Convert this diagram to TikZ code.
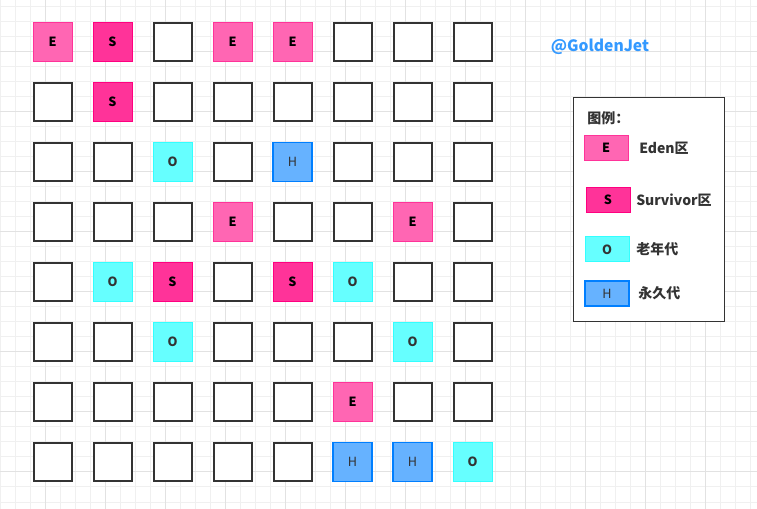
\documentclass[tikz,border=0pt]{standalone}
\usepackage{fontspec}
\setmainfont{Noto Sans CJK SC}
\definecolor{eF}{HTML}{FF66B3}
\definecolor{eD}{HTML}{FF3399}
\definecolor{sF}{HTML}{FF3399}
\definecolor{sD}{HTML}{FF0080}
\definecolor{oF}{HTML}{66FFFF}
\definecolor{oD}{HTML}{33FFFF}
\definecolor{hF}{HTML}{66B2FF}
\definecolor{hD}{HTML}{007FFF}
\definecolor{dk}{HTML}{333333}
\definecolor{gminor}{HTML}{F0F0F0}
\definecolor{gmajor}{HTML}{E2E2E2}
\definecolor{tag}{HTML}{3399FF}
\begin{document}
\begin{tikzpicture}[x=0.75pt,y=-0.75pt,
  cellbase/.style={rectangle,inner sep=0pt,outer sep=0pt,minimum size=29.25pt,font=\fontsize{9.5}{10}\selectfont},
  cellE/.style={cellbase,fill=eF,draw=eD,line width=0.75pt,font=\fontsize{9.5}{10}\selectfont\bfseries,node contents={E}},
  cellS/.style={cellbase,fill=sF,draw=sD,line width=0.75pt,font=\fontsize{9.5}{10}\selectfont\bfseries,node contents={S}},
  cellO/.style={cellbase,fill=oF,draw=oD,line width=0.75pt,text=dk,font=\fontsize{9.5}{10}\selectfont\bfseries,node contents={O}},
  cellH/.style={cellbase,fill=hF,draw=hD,line width=1.1pt,text=dk,node contents={H}},
  cellN/.style={cellbase,fill=white,draw=dk,line width=1.5pt,minimum size=28.5pt,node contents={}},
  legbox/.style={rectangle,inner sep=0pt,minimum width=33pt,minimum height=18.75pt,font=\fontsize{9.5}{10}\selectfont\bfseries},
  legtext/.style={anchor=west,inner sep=0pt,text=dk,font=\fontsize{10.5}{12}\selectfont\bfseries},
  minorline/.style={draw=gminor,line width=0.75pt},
  majorline/.style={draw=gmajor,line width=0.75pt}]
\useasboundingbox (0,0) rectangle (757,509);
\fill[white] (0,0) rectangle (757,509);
% background grid
\foreach \x in {0,15,...,750} \draw[minorline] (\x,0) -- (\x,509);
\foreach \y in {7,22,...,502} \draw[minorline] (0,\y) -- (757,\y);
\foreach \x in {45,105,...,705} \draw[majorline] (\x,0) -- (\x,509);
\foreach \y in {52,112,...,472} \draw[majorline] (0,\y) -- (757,\y);
% cells
\foreach \row [count=\r from 0] in {
  {E,S,N,E,E,N,N,N},
  {N,S,N,N,N,N,N,N},
  {N,N,O,N,H,N,N,N},
  {N,N,N,E,N,N,E,N},
  {N,O,S,N,S,O,N,N},
  {N,N,O,N,N,N,O,N},
  {N,N,N,N,N,E,N,N},
  {N,N,N,N,N,H,H,O}}
{
  \foreach \c [count=\i from 0] in \row {
    \node (b\r-\i) at ({52.5+60*\i},{42+60*\r}) [cell\c];
  }
}
% tag
\node[text=tag,font=\fontsize{11.75}{13}\selectfont\bfseries,inner sep=0pt] (tagtext) at (600,47) {@GoldenJet};
% legend
\node[rectangle,draw=dk,line width=0.75pt,fill=white,minimum width=113.25pt,minimum height=168pt,inner sep=0pt] (legend) at (648.5,210) {};
\node[legtext] (legtitle) at (587,118) {图例：};
\node[legbox,fill=eF,draw=eD,line width=0.75pt] (legE) at (606,148) {E};
\node[legtext] (legEt) at (639,148) {Eden区};
\node[legbox,fill=sF,draw=sD,line width=0.75pt] (legS) at (608,200) {S};
\node[legtext] (legSt) at (636,200) {Survivor区};
\node[legbox,fill=oF,draw=oD,line width=0.75pt,text=dk] (legO) at (607,249.5) {O};
\node[legtext] (legOt) at (636,249.5) {老年代};
\node[legbox,fill=hF,draw=hD,line width=1.1pt,text=dk,font=\fontsize{9.5}{10}\selectfont] (legH) at (607,293.5) {H};
\node[legtext] (legHt) at (638,293.5) {永久代};
\end{tikzpicture}
\end{document}
